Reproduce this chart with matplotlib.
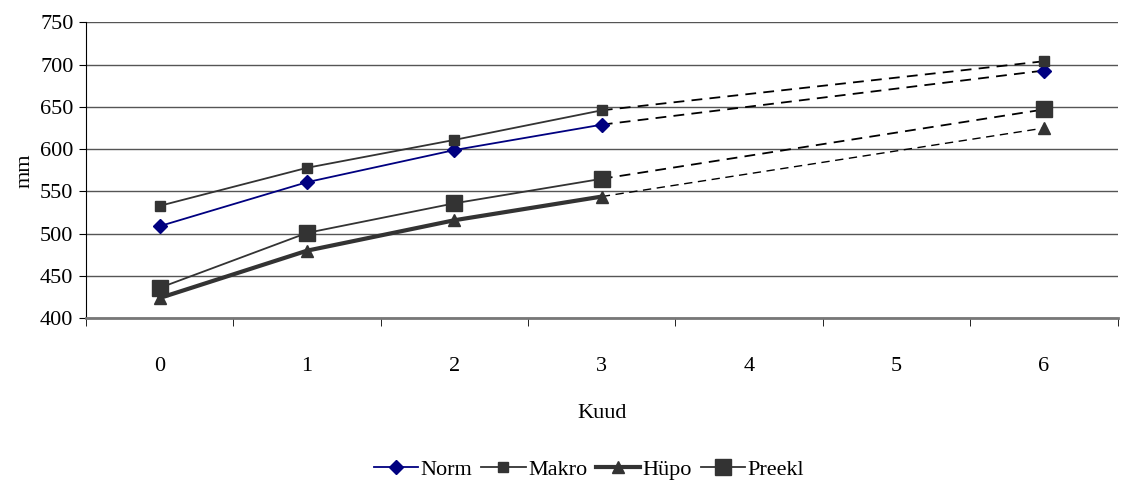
import numpy as np
import matplotlib.pyplot as plt

plt.rcParams['font.family'] = ['Liberation Serif', 'DejaVu Serif']

kuud = ['0', '1', '2', '3', '4', '5', '6']
mootmine = [0, 1, 2, 3, 6]   # months that have a value
norm = [509, 561, 599, 629, 693]
makro = [533, 578, 611, 646, 704]
hypo = [424, 480, 516, 544, 625]
preekl = [436, 501, 536, 565, 647]

fig = plt.figure(figsize=(11.22, 4.86), dpi=100)
ax = fig.add_axes([0.0766, 0.345, 0.9195, 0.609])

x = np.array([kuud.index(str(m)) for m in mootmine])

seeria = [
    ("Norm", norm, dict(color='#000080', lw=1.3, marker='D', ms=7), 1.3),
    ("Makro", makro, dict(color='#333333', lw=1.3, marker='s', ms=7), 1.3),
    ("Hüpo", hypo, dict(color='#333333', lw=3.0, marker='^', ms=9), 1.0),
    ("Preekl", preekl, dict(color='#333333', lw=1.3, marker='s', ms=12), 1.3),
]

handles = []
for nimi, y, st, dlw in seeria:
    y = np.array(y)
    h, = ax.plot(x[:4], y[:4], label=nimi, zorder=3, **st)
    ax.plot(x[3:], y[3:], color='black', lw=dlw, ls=(0, (6, 4)), zorder=2)
    ax.plot(x[4:], y[4:], ls='none', marker=st['marker'], ms=st['ms'],
            color=st['color'], zorder=4)
    handles.append(h)

fs = 16
ax.set_xlim(-0.5, 6.5)
ax.set_ylim(400, 750)
ax.set_yticks(np.arange(400, 751, 50))
ax.set_xticks(range(len(kuud)))
ax.set_xticklabels(kuud)
ax.set_xticks(np.arange(-0.5, 6.6, 1), minor=True)
ax.tick_params(axis='x', which='major', length=0, pad=28, labelsize=fs)
ax.tick_params(axis='x', which='minor', length=6, color='black')
ax.tick_params(axis='y', length=5, labelsize=fs, pad=4)
ax.yaxis.grid(True, color='#555555', lw=1.0)
ax.set_axisbelow(True)
for s in ['top', 'right']:
    ax.spines[s].set_visible(False)
ax.spines['bottom'].set_color('#777777')
ax.spines['bottom'].set_linewidth(2)
ax.spines['left'].set_color('black')

ax.set_ylabel("mm", fontsize=fs, labelpad=4)
ax.set_xlabel("Kuud", fontsize=fs, labelpad=20)

fig.legend(handles=handles, loc='center', bbox_to_anchor=(0.525, 0.033), ncol=4,
           frameon=False, fontsize=fs, handlelength=2.0, handletextpad=0.1,
           columnspacing=0.4)

fig.savefig('out.png', dpi=100)
